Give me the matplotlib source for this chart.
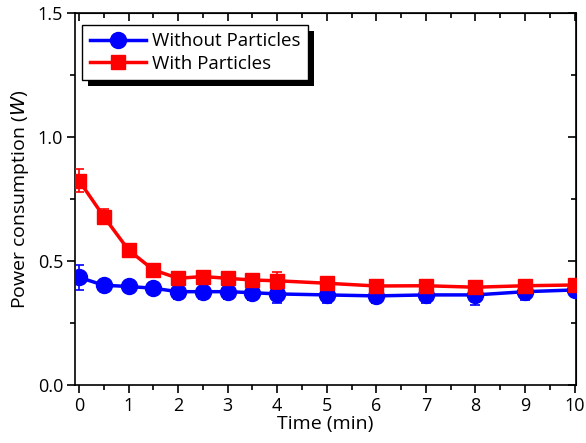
import matplotlib
matplotlib.use("Agg")
import matplotlib.pyplot as plt
from matplotlib.patches import Rectangle
from matplotlib.lines import Line2D
from matplotlib.ticker import MultipleLocator

plt.rcParams['font.family'] = ['Open Sans', 'DejaVu Sans']

# data
time_min = [0, 0.5, 1, 1.5, 2, 2.5, 3, 3.5, 4, 5, 6, 7, 8, 9, 10]
without_particles = [0.434, 0.402, 0.397, 0.390, 0.376, 0.376, 0.376, 0.372, 0.367,
                     0.363, 0.359, 0.363, 0.363, 0.376, 0.383]
without_err = [0.050, 0.020, 0.020, 0.020, 0.030, 0.030, 0.030, 0.030, 0.035,
               0.033, 0.030, 0.032, 0.040, 0.034, 0.020]
with_particles = [0.824, 0.679, 0.544, 0.464, 0.430, 0.437, 0.430, 0.423, 0.420,
                  0.410, 0.399, 0.400, 0.394, 0.400, 0.403]
with_err = [0.045, 0.030, 0.025, 0.025, 0.020, 0.020, 0.025, 0.020, 0.034,
            0.025, 0.020, 0.020, 0.020, 0.020, 0.025]

fig = plt.figure(figsize=(5.86, 4.43), dpi=100)
ax = fig.add_axes([0.128, 0.131, 0.855, 0.840])

ax.errorbar(time_min, without_particles, yerr=without_err, color='#0000ff',
            marker='o', markersize=11.5, linewidth=2.5, capsize=3.5,
            elinewidth=1.2, capthick=1.2, zorder=3)
ax.errorbar(time_min, with_particles, yerr=with_err, color='#ff0000',
            marker='s', markersize=10, linewidth=2.5, capsize=3.5,
            elinewidth=1.2, capthick=1.2, zorder=4)

ax.set_xlim(-0.08, 10.03)
ax.set_ylim(0, 1.5)
ax.xaxis.set_major_locator(MultipleLocator(1))
ax.xaxis.set_minor_locator(MultipleLocator(0.5))
ax.yaxis.set_major_locator(MultipleLocator(0.5))
ax.yaxis.set_minor_locator(MultipleLocator(0.25))
ax.set_yticks([0, 0.5, 1.0, 1.5])
ax.set_yticklabels(['0.0', '0.5', '1.0', '1.5'])

ax.tick_params(which='both', direction='out', labelsize=13, width=1.2, pad=2.5)
ax.tick_params(which='major', length=6)
ax.tick_params(which='minor', length=3.5)
# inward ticks on the top and right
ax2 = ax.secondary_xaxis('top')
ax2.xaxis.set_major_locator(MultipleLocator(1))
ax2.xaxis.set_minor_locator(MultipleLocator(0.5))
ax2.tick_params(which='both', direction='in', labeltop=False, width=1.2)
ax2.tick_params(which='major', length=6)
ax2.tick_params(which='minor', length=3.5)
ay2 = ax.secondary_yaxis('right')
ay2.yaxis.set_major_locator(MultipleLocator(0.5))
ay2.yaxis.set_minor_locator(MultipleLocator(0.25))
ay2.tick_params(which='both', direction='in', labelright=False, width=1.2)
ay2.tick_params(which='major', length=6)
ay2.tick_params(which='minor', length=3.5)
for s in ax.spines.values():
    s.set_linewidth(1.2)

ax.set_xlabel('Time (min)', fontsize=14, labelpad=0)
ax.set_ylabel('Power consumption ($\\mathit{W}$)', fontsize=14, labelpad=5)

handles = [
    Line2D([], [], color='#0000ff', marker='o', markersize=11.5, linewidth=2.5),
    Line2D([], [], color='#ff0000', marker='s', markersize=10, linewidth=2.5),
]
leg = ax.legend(handles, ['Without Particles', 'With Particles'],
                loc='upper left', bbox_to_anchor=(0.014, 0.968), fontsize=13.5,
                frameon=True, fancybox=False, edgecolor='black', framealpha=1,
                handlelength=3.0, borderpad=0.4, labelspacing=0.25,
                handletextpad=0.35, borderaxespad=0)
leg.get_frame().set_linewidth(1.0)
leg.set_zorder(10)

# black drop shadow behind the legend box
fig.canvas.draw()
bb = leg.get_window_extent()
shadow = Rectangle((bb.x0 + 6, bb.y0 - 6), bb.width, bb.height,
                   transform=None, facecolor='black', edgecolor='none', zorder=9)
ax.add_artist(shadow)

fig.savefig('out.png', dpi=100)
